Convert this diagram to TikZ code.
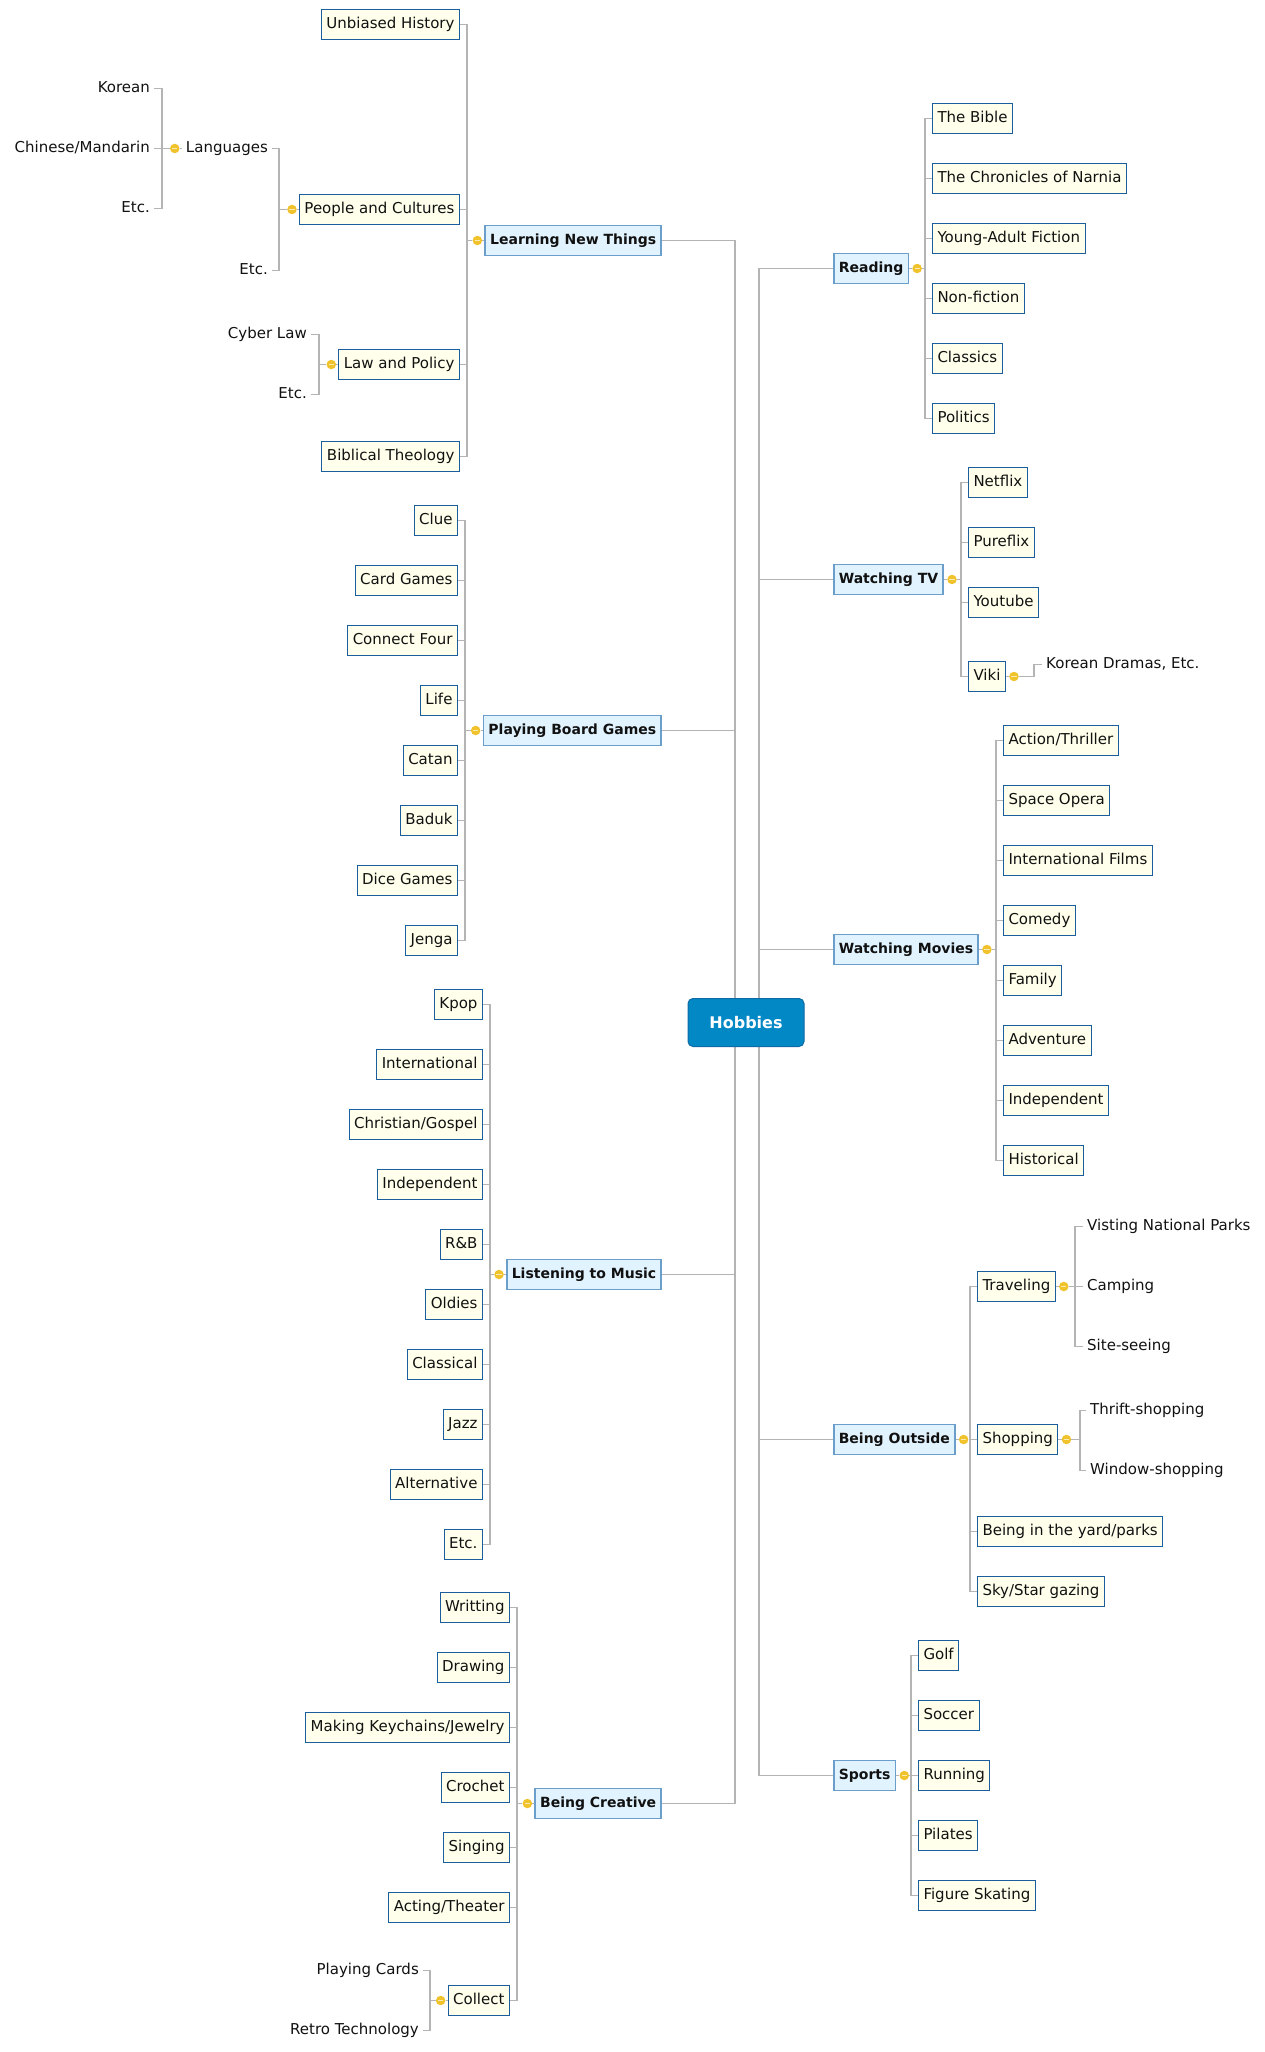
\documentclass[tikz,border=0pt]{standalone}
\usepackage{fontspec}
\setmainfont{DejaVu Sans}
\usepackage{xcolor}
\usetikzlibrary{backgrounds}

\definecolor{linkgray}{HTML}{B4B4B4}
\definecolor{leafline}{HTML}{1B5E9E}
\definecolor{leafbg}{HTML}{FFFFEC}
\definecolor{branchline}{HTML}{6C9ECB}
\definecolor{branchbg}{HTML}{E1F3FE}
\definecolor{rootline}{HTML}{0D6AA6}
\definecolor{rootbg}{HTML}{0388C6}
\definecolor{knobyellow}{HTML}{F0C22B}
\definecolor{knobbar}{HTML}{FCEBB0}
\definecolor{inktext}{HTML}{111111}

\newcommand{\leaffont}{\fontsize{15}{18}\selectfont}
\newcommand{\branchfont}{\fontsize{14}{17}\selectfont\bfseries}
\newcommand{\rootfont}{\fontsize{16}{19}\selectfont\bfseries}

\begin{document}
\begin{tikzpicture}[x=1pt, y=-1pt,
  link/.style={draw=linkgray, line width=1.5pt},
  leaf/.style={draw=leafline, fill=leafbg, line width=1pt, inner xsep=5pt, inner ysep=0pt,
    minimum height=30pt, font=\leaffont, text=inktext, text height=11pt, text depth=3.5pt},
  plain/.style={inner sep=4pt, font=\leaffont, text=inktext, text height=11pt, text depth=3.5pt},
  branch/.style={draw=branchline, fill=branchbg, line width=1.6pt, inner xsep=5pt, inner ysep=0pt,
    minimum height=30pt, font=\branchfont, text=inktext, text height=11pt, text depth=3.5pt},
  root/.style={draw=rootline, fill=rootbg, line width=1pt, rounded corners=5pt,
    minimum width=116pt, minimum height=48pt, font=\rootfont, text=white},
  knob/.style={circle, fill=knobyellow, minimum size=9.5pt, inner sep=0pt,
    path picture={\draw[knobbar, line width=1pt]
      ([xshift=-2.6pt]path picture bounding box.center) -- ([xshift=2.6pt]path picture bounding box.center);}}]

  \useasboundingbox (0,-2.5) rectangle (1265,2049.5);

  \node[root] (hob) at (746,1020) {Hobbies};

  \foreach \n/\y/\t in {reading/266/Reading, tv/577/Watching TV, movies/947/Watching Movies,
      outside/1437/Being Outside, sports/1773/Sports}
    \node[branch, anchor=west] (\n) at (833,\y) {\t};
  \foreach \n/\y/\t in {learn/238/Learning New Things, board/728/Playing Board Games,
      music/1272/Listening to Music, creative/1801/Being Creative}
    \node[branch, anchor=east] (\n) at (662,\y) {\t};

  % right side
  \foreach \n/\y/\t in {bible/116/The Bible, narnia/176/The Chronicles of Narnia, yaf/236/Young-Adult Fiction,
      nonfic/296/Non-fiction, classics/356/Classics, politics/416/Politics}
    \node[leaf, anchor=west] (\n) at (932,\y) {\t};
  \foreach \n/\y/\t in {netflix/480/Netflix, pureflix/540/Pureflix, youtube/600/Youtube, viki/674/Viki}
    \node[leaf, anchor=west] (\n) at (968,\y) {\t};
  \node[plain, anchor=west] (kdramas) at (1042,662) {Korean Dramas, Etc.};
  \foreach \n/\y/\t in {action/738/{Action/Thriller}, space/798/Space Opera, films/858/International Films,
      comedy/918/Comedy, family/978/Family, adventure/1038/Adventure, indiefilm/1098/Independent,
      historical/1158/Historical}
    \node[leaf, anchor=west] (\n) at (1003,\y) {\t};
  \foreach \n/\y/\t in {traveling/1284/Traveling, shopping/1437/Shopping,
      yard/1529/{Being in the yard/parks}, stargazing/1589/{Sky/Star gazing}}
    \node[leaf, anchor=west] (\n) at (977,\y) {\t};
  \foreach \n/\y/\t in {parks/1224/Visting National Parks, camping/1284/Camping, sightseeing/1344/Site-seeing}
    \node[plain, anchor=west] (\n) at (1083,\y) {\t};
  \foreach \n/\y/\t in {thrift/1408/Thrift-shopping, window/1468/Window-shopping}
    \node[plain, anchor=west] (\n) at (1086,\y) {\t};
  \foreach \n/\y/\t in {golf/1653/Golf, soccer/1713/Soccer, running/1773/Running, pilates/1833/Pilates,
      skating/1893/Figure Skating}
    \node[leaf, anchor=west] (\n) at (918,\y) {\t};

  % left side
  \foreach \n/\y/\t in {history/22/Unbiased History, people/207/People and Cultures,
      law/362/Law and Policy, theology/454/Biblical Theology}
    \node[leaf, anchor=east] (\n) at (460,\y) {\t};
  \foreach \n/\y/\t in {languages/146/Languages, etcpeople/268/Etc.}
    \node[plain, anchor=east] (\n) at (272,\y) {\t};
  \foreach \n/\y/\t in {korean/86/Korean, chinese/146/{Chinese/Mandarin}, etclang/206/Etc.}
    \node[plain, anchor=east] (\n) at (154,\y) {\t};
  \foreach \n/\y/\t in {cyber/332/Cyber Law, etclaw/392/Etc.}
    \node[plain, anchor=east] (\n) at (311,\y) {\t};
  \foreach \n/\y/\t in {clue/518/Clue, cardgames/578/Card Games, connect/638/Connect Four, life/698/Life,
      catan/758/Catan, baduk/818/Baduk, dice/878/Dice Games, jenga/938/Jenga}
    \node[leaf, anchor=east] (\n) at (458,\y) {\t};
  \foreach \n/\y/\t in {kpop/1002/Kpop, intmusic/1062/International, gospel/1122/{Christian/Gospel},
      indiemusic/1182/Independent, rnb/1242/R\&B, oldies/1302/Oldies, classical/1362/Classical,
      jazz/1422/Jazz, alt/1482/Alternative, etcmusic/1542/Etc.}
    \node[leaf, anchor=east] (\n) at (483,\y) {\t};
  \foreach \n/\y/\t in {writing/1605/Writting, drawing/1665/Drawing, keychains/1725/{Making Keychains/Jewelry},
      crochet/1785/Crochet, singing/1845/Singing, acting/1905/{Acting/Theater}, collect/1998/Collect}
    \node[leaf, anchor=east] (\n) at (510,\y) {\t};
  \foreach \n/\y/\t in {cards/1968/Playing Cards, retro/2028/Retro Technology}
    \node[plain, anchor=east] (\n) at (423,\y) {\t};

  % knobs
  \foreach \n in {reading, tv, movies, outside, sports, viki, traveling, shopping}
    \node[knob] (k\n) at ([xshift=8pt]\n.east) {};
  \foreach \n in {learn, board, music, creative, people, languages, law, collect}
    \node[knob] (k\n) at ([xshift=-7pt]\n.west) {};

  \begin{scope}[on background layer]
    \foreach \n in {reading, tv, movies, outside, sports}
      \draw[link] (\n.west) -| ([xshift=13pt]hob.center);
    \foreach \n in {learn, board, music, creative}
      \draw[link] (\n.east) -| ([xshift=-11pt]hob.center);
    \foreach \n in {reading, tv, movies, outside, sports, viki, traveling, shopping}
      \draw[link] (\n.east) -- (k\n);
    \foreach \n in {learn, board, music, creative, people, languages, law, collect}
      \draw[link] (\n.west) -- (k\n);

    \foreach \n in {bible, narnia, yaf, nonfic, classics, politics}
      \draw[link] (\n.west) -- ++(-7,0) |- (kreading);
    \foreach \n in {netflix, pureflix, youtube, viki}
      \draw[link] (\n.west) -- ++(-7,0) |- (ktv);
    \draw[link] (kdramas.west) -- ++(-8,0) |- (kviki);
    \foreach \n in {action, space, films, comedy, family, adventure, indiefilm, historical}
      \draw[link] (\n.west) -- ++(-7,0) |- (kmovies);
    \foreach \n in {traveling, shopping, yard, stargazing}
      \draw[link] (\n.west) -- ++(-7,0) |- (koutside);
    \foreach \n in {parks, camping, sightseeing}
      \draw[link] (\n.west) -- ++(-8,0) |- (ktraveling);
    \foreach \n in {thrift, window}
      \draw[link] (\n.west) -- ++(-6,0) |- (kshopping);
    \foreach \n in {golf, soccer, running, pilates, skating}
      \draw[link] (\n.west) -- ++(-7,0) |- (ksports);

    \foreach \n in {history, people, law, theology}
      \draw[link] (\n.east) -- ++(7,0) |- (klearn);
    \foreach \n in {languages, etcpeople}
      \draw[link] (\n.east) -- ++(7,0) |- (kpeople);
    \foreach \n in {korean, chinese, etclang}
      \draw[link] (\n.east) -- ++(8,0) |- (klanguages);
    \foreach \n in {cyber, etclaw}
      \draw[link] (\n.east) -- ++(8,0) |- (klaw);
    \foreach \n in {clue, cardgames, connect, life, catan, baduk, dice, jenga}
      \draw[link] (\n.east) -- ++(7,0) |- (kboard);
    \foreach \n in {kpop, intmusic, gospel, indiemusic, rnb, oldies, classical, jazz, alt, etcmusic}
      \draw[link] (\n.east) -- ++(7,0) |- (kmusic);
    \foreach \n in {writing, drawing, keychains, crochet, singing, acting, collect}
      \draw[link] (\n.east) -- ++(7,0) |- (kcreative);
    \foreach \n in {cards, retro}
      \draw[link] (\n.east) -- ++(7,0) |- (kcollect);
  \end{scope}
\end{tikzpicture}
\end{document}
